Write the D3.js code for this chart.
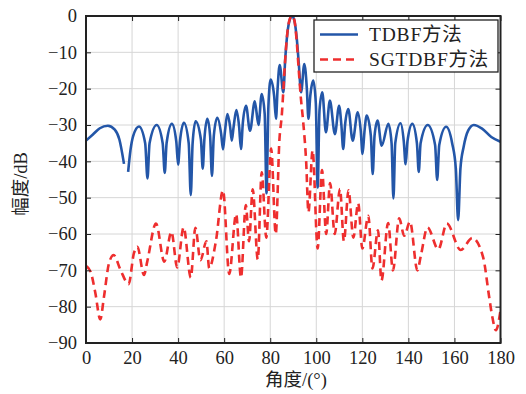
<!DOCTYPE html>
<html>
<head>
<meta charset="utf-8">
<script src="https://d3js.org/d3.v7.min.js"></script>
<style>
  * { margin: 0; padding: 0; }
  body { background: #fff; width: 526px; height: 394px; overflow: hidden; }
  svg { display: block; font-family: 'Liberation Serif', 'Noto Sans CJK SC', serif; }
  .grid line { stroke: #d6d6d6; stroke-width: 1; }
  .axis line { stroke: #222; stroke-width: 1; }
</style>
</head>
<body>
<svg id="chart" width="526" height="394"></svg>
<script>
// axis ticks
const angleTicks = [0, 20, 40, 60, 80, 100, 120, 140, 160, 180];
const dbTicks = [0, -10, -20, -30, -40, -50, -60, -70, -80, -90];

// TDBF (solid blue); null = gap in the line
const tdbfAngle = [0, 3, 6, 9.5, 12.5, 14.5, 16.5, 17.4, 18.3, 19.3, 20.5, 23, 25.7, 26.7, 27.6, 30.7,
  33.3, 34.2, 35, 37.3, 39.2, 40, 40.8, 42.5, 44.6, 45.5, 46.3, 47.6, 49.9, 50.7, 51.4, 52.7, 53.9, 54.7,
  55.5, 57, 58.7, 59.5, 60.3, 61.4, 62.6, 63.3, 64.1, 65.3, 66.5, 67.3, 68.1, 69.5, 71.2, 73.3, 74.9, 76.3,
  77.6, 78.4, 79.2, 80.2, 81.7, 82.5, 83.2, 84.1, 85.7, 86.5, 87.5, 88.5, 89.5, 90.5, 91.5, 92.4, 93.4,
  94.8, 95.9, 96.6, 97.4, 98.7, 99.8, 100.6, 101.4, 102.6, 104.2, 105.9, 108.1, 109.9, 110.9, 111.7, 112.5,
  113.9, 115.8, 118, 119.3, 120.1, 120.9, 121.9, 123.7, 124.5, 125.3, 126.6, 128.4, 131.3, 132.7, 133.5,
  134.3, 136.6, 138, 138.8, 139.6, 141.7, 143.7, 144.5, 145.3, 148.4, 151.6, 152.5, 153.4, 156.4, 159,
  160.6, 161.6, 162.6, 164, 166, 168.4, 172, 176, 180];
const tdbfDb = [-34.3, -32.6, -30.9, -30.2, -31.3, -34, -40.7, null, -42.9, -37, -33, -30.4, -35, -44.7, -35,
  -30, -35, -43.2, -35, -29.7, -34.5, -40.9, -34.5, -29.4, -35, -49.3, -35, -29, -34, -42, -34, -28.3, -33,
  -44, -33, -28, -32.5, -36.7, -32, -27, -30.5, -34.3, -30.5, -25.9, -30.5, -36.6, -29.5, -24.7, -31.6,
  -23.5, -30, -21.5, -27, -48.8, -25, -17.5, -22, -28.3, -20, -13.5, -21, -12, -4.5, -1, 0, -1.3, -6, -13,
  -21, -13.2, -20, -28.3, -22, -17.8, -24, -47.2, -26, -21, -32, -23.3, -32.5, -24.7, -30, -36.6, -30,
  -25.6, -34.3, -26.5, -31.5, -38, -32, -27.4, -33, -43.5, -33, -28.8, -35.7, -29.7, -35, -50.2, -35, -29.5,
  -34.5, -40.8, -34.5, -29.7, -35, -42.9, -35, -30, -35.5, -45.1, -35.5, -30.5, -35, -42, -56.2, -42, -36,
  -31.5, -30, -31, -33.3, -34.6];

// SGTDBF (dashed red)
const sgAngle = [0, 2, 4, 6.2, 7.8, 10, 12, 15, 18.5, 20.8, 22.3, 25.2, 26.6, 30.4, 34, 37.1, 39.6, 42.4, 45.5,
  47.5, 49.7, 52.3, 53.5, 56.4, 59.5, 62.2, 65.2, 67.3, 69.4, 70.8, 72.4, 74.6, 76.3, 78.3, 80.4, 82.4, 84, 85,
  86.3, 87.3, 88.4, 89.5, 90.5, 91.5, 92.4, 93.3, 94.3, 95.6, 96.6, 98.4, 100.6, 102.5, 104.3, 106, 108, 110.3,
  112, 114, 116.1, 118.2, 120, 122.6, 124.4, 126.8, 128.3, 131.2, 133.3, 136, 138.2, 140.7, 143.9, 145.4,
  148.3, 153, 156.7, 162.7, 167.8, 172.5, 175, 176.5, 178, 180];
const sgDb = [-68.8, -70.4, -76, -83.5, -77.3, -68, -65.8, -69.9, -73.8, -65.3, -63.5, -71.3, -67.6, -57.1,
  -67.6, -59.4, -69.2, -58.2, -72, -58.3, -67.2, -62, -69.4, -62, -48, -71, -54.5, -72, -52, -62, -47.7, -67,
  -43, -61, -36.5, -60, -34, -27.5, -14, -5.5, -1, 0, -1.2, -7, -15, -22.5, -29, -40, -54, -37, -64, -42.4,
  -60, -46, -60, -47.6, -62, -48, -61, -51.5, -64, -55, -69.5, -59, -72.8, -57, -70, -55.7, -60.5, -56.6, -70,
  -66, -58.2, -64.2, -57.1, -64.4, -61.1, -66.5, -77, -83, -86.5, -81];

const seriesNames = ['TDBF方法', 'SGTDBF方法'];
const seriesColors = ['#2356a8', '#ee2e2e'];

const serif = "'Liberation Serif', 'Noto Sans CJK SC', serif";
const margin = { left: 86, top: 16 };
const W = 414.5, H = 327;

const svg = d3.select('#chart');
const g = svg.append('g').attr('transform', `translate(${margin.left},${margin.top})`);

const x = d3.scaleLinear().domain([0, 180]).range([0, W]);
const y = d3.scaleLinear().domain([-90, 0]).range([H, 0]);

// grid
const grid = g.append('g').attr('class', 'grid');
grid.selectAll('.gx').data(angleTicks.slice(1, -1)).join('line')
  .attr('x1', d => x(d)).attr('x2', d => x(d)).attr('y1', 0).attr('y2', H);
grid.selectAll('.gy').data(dbTicks.slice(1, -1)).join('line')
  .attr('y1', d => y(d)).attr('y2', d => y(d)).attr('x1', 0).attr('x2', W);

// curves
svg.append('defs').append('clipPath').attr('id', 'clip')
  .append('rect').attr('width', W).attr('height', H);
const plot = g.append('g').attr('clip-path', 'url(#clip)');

const line = d3.line()
  .defined(d => d[1] !== null)
  .x(d => x(d[0])).y(d => y(d[1]))
  .curve(d3.curveMonotoneX);

plot.append('path')
  .datum(tdbfAngle.map((a, i) => [a, tdbfDb[i]]))
  .attr('d', line)
  .attr('fill', 'none').attr('stroke', seriesColors[0]).attr('stroke-width', 2.6)
  .attr('stroke-linejoin', 'round');

plot.append('path')
  .datum(sgAngle.map((a, i) => [a, sgDb[i]]))
  .attr('d', line)
  .attr('fill', 'none').attr('stroke', seriesColors[1]).attr('stroke-width', 2.6)
  .attr('stroke-dasharray', '8,5');

// axes (ticks point inward, on all four sides)
const axes = [
  g.append('g').attr('transform', `translate(0,${H})`)
    .call(d3.axisBottom(x).tickValues(angleTicks).tickSize(-5).tickPadding(8).tickFormat(d3.format('d'))),
  g.append('g')
    .call(d3.axisLeft(y).tickValues(dbTicks).tickSize(-5).tickPadding(9).tickFormat(d3.format('d'))),
  g.append('g')
    .call(d3.axisTop(x).tickValues(angleTicks).tickSize(-5).tickFormat('')),
  g.append('g').attr('transform', `translate(${W},0)`)
    .call(d3.axisRight(y).tickValues(dbTicks).tickSize(-5).tickFormat(''))
];
axes.forEach(a => {
  a.attr('class', 'axis').attr('font-family', serif).attr('font-size', 18.5);
  a.select('.domain').remove();
  a.selectAll('text').attr('fill', '#222').style('font-family', serif).style('font-size', '18.5px');
});

g.append('rect').attr('width', W).attr('height', H)
  .attr('fill', 'none').attr('stroke', '#222').attr('stroke-width', 2);

// axis titles
svg.append('text').attr('x', 296).attr('y', 386).attr('text-anchor', 'middle')
  .attr('font-size', 18.5).attr('fill', '#222').text('角度/(°)');
svg.append('text').attr('transform', 'translate(27,184) rotate(-90)').attr('text-anchor', 'middle')
  .attr('font-size', 18.5).attr('fill', '#222').text('幅度/dB');

// legend
const lg = svg.append('g');
lg.append('rect').attr('x', 314).attr('y', 20).attr('width', 184).attr('height', 52)
  .attr('fill', '#fff').attr('stroke', '#222').attr('stroke-width', 1.3);
seriesNames.forEach((name, i) => {
  const ly = 34.5 + i * 25;
  lg.append('line').attr('x1', 320).attr('x2', 358).attr('y1', ly).attr('y2', ly)
    .attr('stroke', seriesColors[i]).attr('stroke-width', 2.6)
    .attr('stroke-dasharray', i === 1 ? '8,5' : null);
  lg.append('text').attr('x', 369).attr('y', ly + 6.5).attr('font-size', 19.5)
    .attr('letter-spacing', 0.8).attr('fill', '#222').text(name);
});
</script>
</body>
</html>
